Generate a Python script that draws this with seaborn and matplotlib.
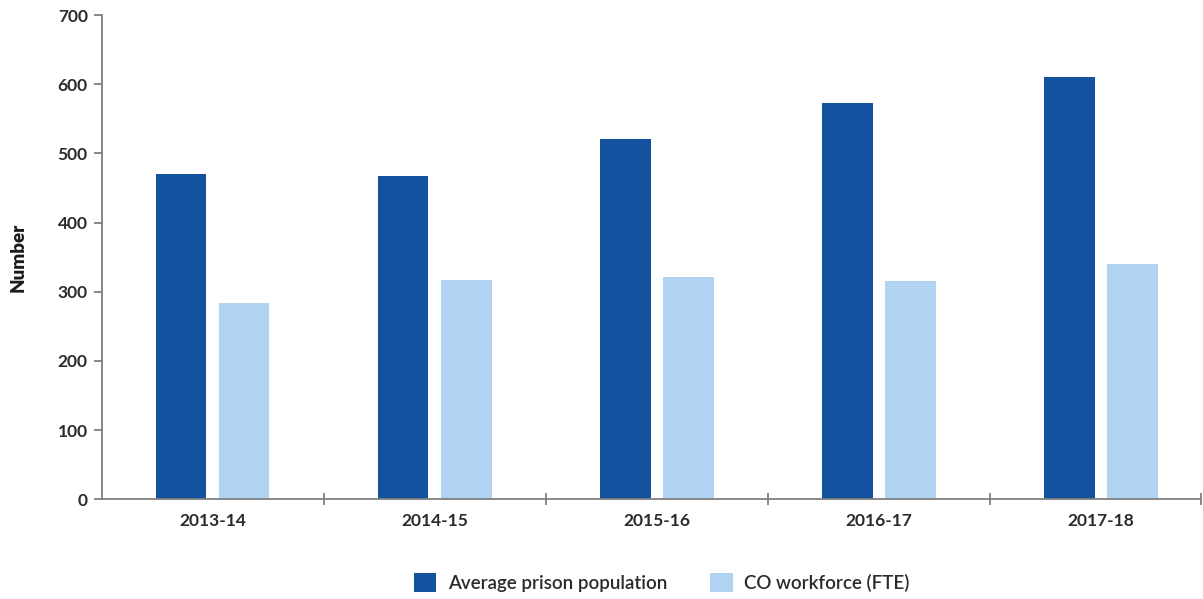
import matplotlib
matplotlib.use("Agg")
import matplotlib.pyplot as plt
import seaborn as sns
import pandas as pd
from matplotlib.ticker import FixedLocator

years = ["2013-14", "2014-15", "2015-16", "2016-17", "2017-18"]
prison_population = [470, 467, 521, 573, 611]
co_workforce = [284, 317, 321, 316, 340]
series_names = ["Average prison population", "CO workforce (FTE)"]
colors = ["#14529F", "#AFD3F0"]

df = pd.DataFrame({
    "Year": years * 2,
    "Value": prison_population + co_workforce,
    "Series": [series_names[0]] * len(years) + [series_names[1]] * len(years),
})

sns.set_theme(style="white")
plt.rcParams["font.family"] = ["Lato", "DejaVu Sans"]

fig = plt.figure(figsize=(12.03, 5.99), dpi=100)
ax = fig.add_axes([0.0845, 0.1664, 0.9138, 0.8085])

sns.barplot(data=df, x="Year", y="Value", hue="Series", order=years,
            hue_order=series_names, palette=colors, width=0.568, gap=0.2,
            saturation=1, edgecolor="none", ax=ax, legend=True)

ax.set_ylim(0, 700)
ax.set_xlim(-0.5, 4.45)
ax.set_yticks(range(0, 701, 100))

spine_col = "#7F7F7F"
for side in ["top", "right"]:
    ax.spines[side].set_visible(False)
for side in ["left", "bottom"]:
    ax.spines[side].set_color(spine_col)
    ax.spines[side].set_linewidth(1.3)

ax.tick_params(axis="y", which="major", left=True, length=6, width=1.3,
               color=spine_col, labelsize=12.5, labelcolor="#2b2b2b", pad=4)
ax.tick_params(axis="x", which="major", bottom=False, length=0,
               labelsize=12.5, labelcolor="#2b2b2b", pad=10)
ax.xaxis.set_minor_locator(FixedLocator([0.5, 1.5, 2.5, 3.5, 4.45]))
ax.tick_params(axis="x", which="minor", bottom=True, direction="inout",
               length=9, width=1.3, color=spine_col)
for lbl in ax.get_xticklabels() + ax.get_yticklabels():
    lbl.set_fontweight("bold")

ax.set_xlabel("")
ax.set_ylabel("Number", fontsize=13.5, fontweight="heavy", color="#1a1a1a")
ax.yaxis.set_label_coords(-0.068, 0.5)

handles, labels = ax.get_legend_handles_labels()
ax.get_legend().remove()
leg = fig.legend(handles, labels, loc="center", bbox_to_anchor=(0.55, 0.027),
                 ncol=2, frameon=False, fontsize=13.5, handlelength=1.2,
                 handleheight=1.2, handletextpad=0.6, columnspacing=2.3,
                 labelcolor="#2b2b2b")
for t in leg.get_texts():
    t.set_fontweight("semibold")

fig.savefig("out.png", dpi=100)
